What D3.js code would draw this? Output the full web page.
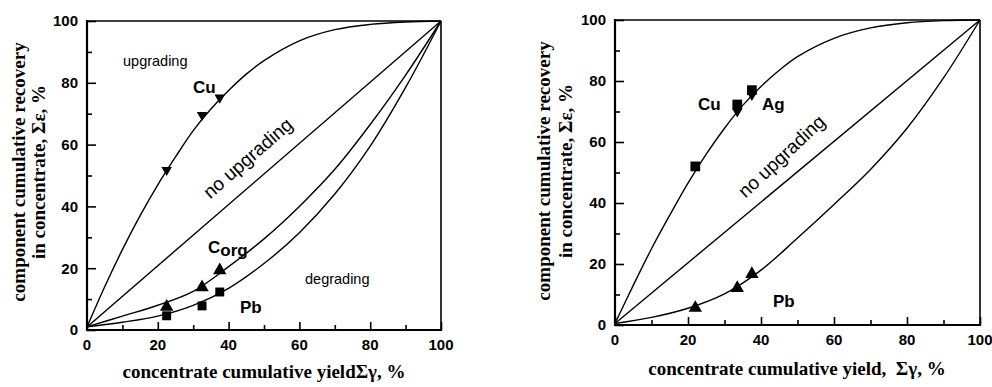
<!DOCTYPE html>
<html>
<head>
<meta charset="utf-8">
<script src="https://cdn.jsdelivr.net/npm/d3@7"></script>
<style>
  html, body { margin: 0; padding: 0; background: #fff; }
  svg { display: block; }
  .tick-label { font-family: "Liberation Sans", Arial, sans-serif; font-weight: bold; font-size: 15px; fill: #000; }
  .title { font-family: "Liberation Serif", "Times New Roman", serif; font-weight: bold; font-size: 19px; fill: #000; }
  .note { font-family: "Liberation Sans", Arial, sans-serif; font-size: 14.5px; fill: #000; }
  .elem { font-family: "Liberation Sans", Arial, sans-serif; font-weight: bold; font-size: 17px; fill: #000; }
</style>
</head>
<body>
<svg id="chart" width="992" height="387"></svg>
<script>
// Axis ticks (both panels share them)
const majorTicks = [0, 20, 40, 60, 80, 100];
const minorTicks = [10, 30, 50, 70, 90];

// Left panel: fitted recovery curves [yield %, recovery %]
const cuCurveL   = [[0,1],[5,14],[10,26],[15,37],[20,47],[25,56],[30,64.5],[35,71.5],[40,77.5],[45,82.8],[50,87.2],[60,93.6],[70,97.2],[80,98.9],[90,99.7],[100,100]];
const diagL      = [[0,1],[100,100]];
const corgCurveL = [[0,1],[10,4.5],[20,8],[30,12.5],[40,20.5],[50,29.5],[60,40],[70,52],[80,66.5],[90,82.5],[100,100]];
const pbCurveL   = [[0,1],[10,2.5],[20,4.5],[30,8],[40,13.5],[50,21.5],[60,31.5],[70,44],[80,59.5],[90,78.5],[100,100]];

// Left panel: measured points
const cuPtsL   = [[22.5,51.8],[32.5,69.6],[37.5,75.2]];
const corgPtsL = [[22.5,7.5],[32.5,13.8],[37.5,19.3]];
const pbPtsL   = [[22.5,4.6],[32.5,7.8],[37.5,12.3]];

// Right panel: fitted recovery curves
const cuCurveR = [[0,0.5],[5,13],[10,25],[15,36],[20,46.5],[25,56],[30,64.5],[35,72],[40,78.2],[45,83.5],[50,88],[60,94],[70,97.4],[80,99.1],[90,99.8],[100,100]];
const diagR    = [[0,0.5],[100,100]];
const pbCurveR = [[0,0.5],[10,2.5],[20,5.5],[30,10.2],[40,18],[50,28.5],[60,39.5],[70,51],[80,64.5],[90,81],[100,100]];

// Right panel: measured points
const cuPtsR = [[22,52],[33.5,72.3],[37.5,77]];
const agPtsR = [[33.5,70],[37.5,75.4]];
const pbPtsR = [[22,5.6],[33.5,12.1],[37.5,16.7]];

const svg = d3.select("#chart");

function panel(box) {
  const x = d3.scaleLinear().domain([0, 100]).range([box.left, box.right]);
  const y = d3.scaleLinear().domain([0, 100]).range([box.bottom, box.top]);
  const g = svg.append("g");

  // frame: thin top/right, heavy left/bottom
  g.append("line").attr("x1", box.left).attr("x2", box.right).attr("y1", box.top).attr("y2", box.top)
    .attr("stroke", "#000").attr("stroke-width", 1.6);
  g.append("line").attr("x1", box.right).attr("x2", box.right).attr("y1", box.top).attr("y2", box.bottom)
    .attr("stroke", "#000").attr("stroke-width", 1.6);

  // inward ticks
  const xAxis = d3.axisTop(x).tickValues(majorTicks).tickSize(8).tickFormat("");
  const xMinor = d3.axisTop(x).tickValues(minorTicks).tickSize(5).tickFormat("");
  const yAxis = d3.axisRight(y).tickValues(majorTicks).tickSize(9).tickFormat("");
  const yMinor = d3.axisRight(y).tickValues(minorTicks).tickSize(5).tickFormat("");
  [xAxis, xMinor].forEach(a => {
    const ag = g.append("g").attr("transform", `translate(0,${box.bottom})`).call(a);
    ag.select(".domain").remove();
    ag.selectAll("line").attr("stroke-width", 1.6);
  });
  [yAxis, yMinor].forEach(a => {
    const ag = g.append("g").attr("transform", `translate(${box.left},0)`).call(a);
    ag.select(".domain").remove();
    ag.selectAll("line").attr("stroke-width", 1.6);
  });
  g.append("line").attr("x1", box.left).attr("x2", box.right + 1).attr("y1", box.bottom).attr("y2", box.bottom)
    .attr("stroke", "#000").attr("stroke-width", 2.2);
  g.append("line").attr("x1", box.left).attr("x2", box.left).attr("y1", box.top - 1).attr("y2", box.bottom + 1)
    .attr("stroke", "#000").attr("stroke-width", 2.2);

  // tick labels
  g.selectAll(".xl").data(majorTicks).enter().append("text").attr("class", "tick-label")
    .attr("x", d => x(d)).attr("y", box.bottom + box.xLabelDy).attr("text-anchor", "middle").text(d => d);
  g.selectAll(".yl").data(majorTicks).enter().append("text").attr("class", "tick-label")
    .attr("x", box.left - 9).attr("y", d => y(d)).attr("dy", "0.36em").attr("text-anchor", "end").text(d => d);

  const line = d3.line().x(d => x(d[0])).y(d => y(d[1])).curve(d3.curveCatmullRom.alpha(0.5));
  function curve(data) {
    g.append("path").attr("d", line(data)).attr("fill", "none").attr("stroke", "#000").attr("stroke-width", 1.4);
  }
  function marks(data, type, size, rot) {
    const sym = d3.symbol().type(type).size(size);
    g.selectAll(null).data(data).enter().append("path")
      .attr("d", sym)
      .attr("transform", d => `translate(${x(d[0])},${y(d[1])}) rotate(${rot || 0})`)
      .attr("fill", "#000");
  }
  return { x, y, g, curve, marks };
}

function yTitle(cx, cy, gap) {
  const t = svg.append("text").attr("class", "title")
    .attr("transform", `translate(${cx},${cy}) rotate(-90)`).attr("text-anchor", "middle");
  t.append("tspan").attr("x", 0).attr("y", 0).text("component cumulative recovery");
  t.append("tspan").attr("x", 0).attr("y", gap).text("in concentrate, Σε, %");
}

// ---------- left panel ----------
const L = panel({ left: 87, right: 441, top: 21, bottom: 330, xLabelDy: 20 });
L.curve(cuCurveL); L.curve(diagL); L.curve(corgCurveL); L.curve(pbCurveL);
L.marks(cuPtsL, d3.symbolTriangle, 48, 180);
L.marks(corgPtsL, d3.symbolTriangle, 78, 0);
L.marks(pbPtsL, d3.symbolSquare, 80, 0);

L.g.append("text").attr("class", "note").attr("x", 123).attr("y", 66).text("upgrading");
L.g.append("text").attr("class", "note").attr("x", 305).attr("y", 284).text("degrading");
L.g.append("text").attr("class", "note").style("font-size", "19px").attr("text-anchor", "middle")
  .attr("transform", "translate(252,163) rotate(-41)").text("no upgrading");
L.g.append("text").attr("class", "elem").attr("x", 193).attr("y", 93).text("Cu");
const corg = L.g.append("text").attr("class", "elem").attr("x", 208).attr("y", 253);
corg.append("tspan").text("C");
corg.append("tspan").attr("dy", 3).text("org");
L.g.append("text").attr("class", "elem").attr("x", 240).attr("y", 313).text("Pb");

yTitle(25, 172, 20);
svg.append("text").attr("class", "title").attr("x", 264).attr("y", 378).attr("text-anchor", "middle")
  .text("concentrate cumulative yieldΣγ, %");

// ---------- right panel ----------
const R = panel({ left: 615, right: 980, top: 20, bottom: 325, xLabelDy: 20 });
R.curve(cuCurveR); R.curve(diagR); R.curve(pbCurveR);
R.marks(agPtsR, d3.symbolTriangle, 48, 180);
R.marks(cuPtsR, d3.symbolSquare, 95, 0);
R.marks(pbPtsR, d3.symbolTriangle, 78, 0);

R.g.append("text").attr("class", "note").style("font-size", "19px").attr("text-anchor", "middle")
  .attr("transform", "translate(786,161) rotate(-43)").text("no upgrading");
R.g.append("text").attr("class", "elem").attr("x", 698).attr("y", 110).text("Cu");
R.g.append("text").attr("class", "elem").attr("x", 762).attr("y", 110).text("Ag");
R.g.append("text").attr("class", "elem").attr("x", 773).attr("y", 307).text("Pb");

yTitle(550, 171, 22);
svg.append("text").attr("class", "title").attr("x", 797).attr("y", 375).attr("text-anchor", "middle")
  .attr("xml:space", "preserve").style("white-space", "pre")
  .text("concentrate cumulative yield,  Σγ, %");
</script>
</body>
</html>
